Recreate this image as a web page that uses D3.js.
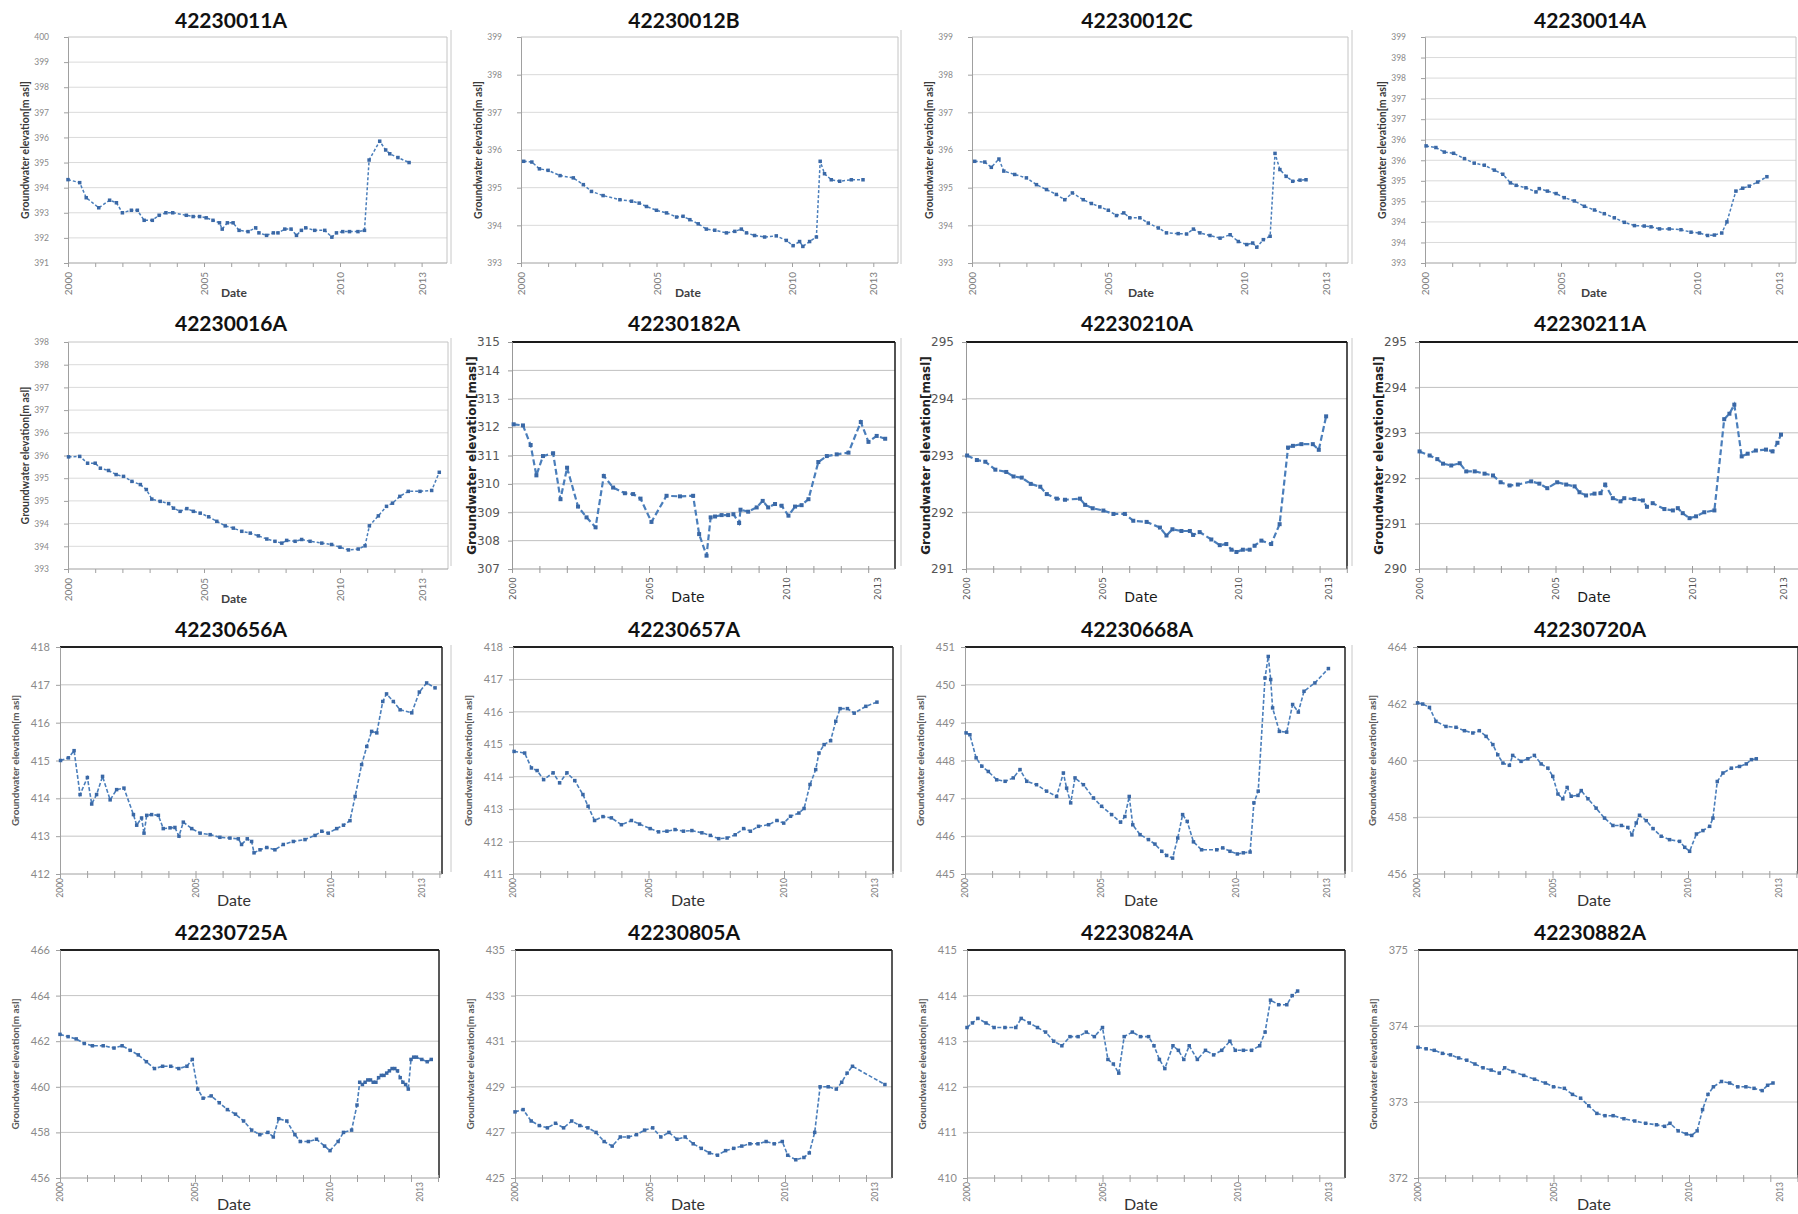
<!DOCTYPE html>
<html><head><meta charset="utf-8">
<script src="https://cdn.jsdelivr.net/npm/d3@7"></script>
<style>body{margin:0;background:#fff;} svg{display:block;}</style>
</head><body>
<svg id="c" width="1798" height="1214"></svg>
<script>
// ---------------- DATA ----------------
const wellNames = ["42230011A","42230012B","42230012C","42230014A","42230016A","42230182A","42230210A","42230211A",
  "42230656A","42230657A","42230668A","42230720A","42230725A","42230805A","42230824A","42230882A"];
const yLow  = [391,393,393,393,393,307,291,290,412,411,445,456,456,425,410,372];
const yHigh = [400,399,399,398.5,398,315,295,295,418,418,451,464,466,435,415,375];
const yStep = [1,1,1,0.5,0.5,1,1,1,1,1,1,2,2,2,1,1];
const majorYears = [2000,2005,2010,2013];
const minorYears = [2000,2001,2002,2003,2004,2005,2006,2007,2008,2009,2010,2011,2012,2013,2014];
const xTitle = "Date";
const yTitles = ["Groundwater elevation[m asl]","Groundwater elevation[masl]"];

const d_42230011A = [[2000.0,394.32],[2000.43,394.2],[2000.67,393.6],[2001.13,393.2],[2001.53,393.5],[2001.78,393.4],[2002.0,393.0],[2002.33,393.1],[2002.55,393.1],[2002.8,392.7],[2003.1,392.7],[2003.35,392.9],[2003.6,393.0],[2003.85,393.0],[2004.35,392.9],[2004.6,392.85],[2004.84,392.85],[2005.08,392.8],[2005.33,392.7],[2005.57,392.6],[2005.67,392.35],[2005.86,392.6],[2006.07,392.6],[2006.29,392.3],[2006.62,392.25],[2006.9,392.4],[2007.02,392.2],[2007.3,392.1],[2007.55,392.2],[2007.72,392.2],[2007.97,392.35],[2008.2,392.35],[2008.4,392.1],[2008.58,392.3],[2008.74,392.4],[2009.07,392.3],[2009.44,392.3],[2009.7,392.03],[2009.87,392.2],[2010.1,392.25],[2010.35,392.25],[2010.66,392.25],[2010.9,392.3],[2011.07,395.1],[2011.46,395.85],[2011.68,395.5],[2011.83,395.35],[2012.13,395.2],[2012.54,395.0]];
const d_42230012B = [[2000.1,395.7],[2000.4,395.68],[2000.68,395.5],[2001.0,395.46],[2001.44,395.32],[2001.93,395.26],[2002.3,395.08],[2002.6,394.9],[2003.03,394.79],[2003.65,394.68],[2004.08,394.64],[2004.36,394.59],[2004.63,394.5],[2005.0,394.4],[2005.37,394.33],[2005.74,394.22],[2005.98,394.24],[2006.23,394.15],[2006.54,394.04],[2006.84,393.9],[2007.15,393.87],[2007.58,393.8],[2007.89,393.84],[2008.13,393.9],[2008.32,393.8],[2008.62,393.73],[2008.99,393.69],[2009.42,393.72],[2009.79,393.6],[2010.04,393.46],[2010.28,393.57],[2010.4,393.44],[2010.65,393.57],[2010.9,393.69],[2011.04,395.7],[2011.2,395.37],[2011.45,395.21],[2011.76,395.17],[2012.19,395.21],[2012.62,395.21]];
const d_42230012C = [[2000.1,395.7],[2000.47,395.68],[2000.71,395.54],[2000.99,395.76],[2001.17,395.44],[2001.57,395.35],[2002.0,395.26],[2002.37,395.08],[2002.74,394.95],[2003.1,394.82],[2003.41,394.68],[2003.69,394.86],[2004.09,394.68],[2004.39,394.58],[2004.7,394.49],[2005.01,394.4],[2005.31,394.26],[2005.58,394.33],[2005.8,394.2],[2006.17,394.2],[2006.48,394.06],[2006.85,393.93],[2007.15,393.8],[2007.58,393.78],[2007.89,393.77],[2008.14,393.9],[2008.38,393.8],[2008.75,393.73],[2009.12,393.66],[2009.49,393.75],[2009.79,393.57],[2010.1,393.49],[2010.32,393.53],[2010.47,393.42],[2010.71,393.62],[2010.96,393.71],[2011.14,395.91],[2011.32,395.48],[2011.55,395.3],[2011.79,395.17],[2012.06,395.2],[2012.28,395.21]];
const d_42230014A = [[2000.04,395.85],[2000.4,395.81],[2000.71,395.7],[2001.05,395.67],[2001.45,395.54],[2001.81,395.43],[2002.18,395.38],[2002.55,395.26],[2002.86,395.16],[2003.14,394.95],[2003.35,394.89],[2003.71,394.83],[2004.08,394.73],[2004.2,394.81],[2004.5,394.75],[2004.82,394.69],[2005.12,394.59],[2005.49,394.51],[2005.86,394.38],[2006.23,394.29],[2006.59,394.2],[2006.96,394.1],[2007.33,393.99],[2007.7,393.91],[2008.06,393.9],[2008.31,393.88],[2008.62,393.83],[2008.98,393.83],[2009.41,393.81],[2009.78,393.75],[2010.09,393.73],[2010.39,393.67],[2010.64,393.68],[2010.91,393.73],[2011.1,394.0],[2011.43,394.75],[2011.68,394.82],[2011.92,394.87],[2012.23,394.97],[2012.57,395.1]];
const d_42230016A = [[2000.02,395.47],[2000.43,395.48],[2000.72,395.33],[2001.0,395.33],[2001.19,395.22],[2001.49,395.17],[2001.77,395.08],[2002.04,395.04],[2002.35,394.93],[2002.66,394.86],[2002.88,394.75],[2003.08,394.54],[2003.39,394.49],[2003.7,394.44],[2003.88,394.34],[2004.12,394.27],[2004.37,394.33],[2004.61,394.27],[2004.86,394.23],[2005.17,394.15],[2005.47,394.05],[2005.78,393.95],[2006.08,393.9],[2006.39,393.83],[2006.7,393.79],[2007.0,393.73],[2007.31,393.66],[2007.61,393.61],[2007.86,393.57],[2008.04,393.63],[2008.35,393.61],[2008.59,393.65],[2008.9,393.61],[2009.33,393.57],[2009.69,393.54],[2010.0,393.48],[2010.31,393.42],[2010.67,393.44],[2010.92,393.51],[2011.08,393.95],[2011.41,394.17],[2011.71,394.38],[2011.93,394.45],[2012.2,394.6],[2012.51,394.71],[2012.94,394.71],[2013.37,394.73],[2013.65,395.13]];
const d_42230182A = [[2000.06,312.1],[2000.4,312.06],[2000.68,311.37],[2000.89,310.3],[2001.13,310.98],[2001.5,311.08],[2001.77,309.46],[2002.01,310.57],[2002.41,309.2],[2002.72,308.82],[2003.05,308.47],[2003.35,310.28],[2003.69,309.87],[2004.12,309.67],[2004.42,309.64],[2004.69,309.48],[2005.09,308.66],[2005.64,309.58],[2006.13,309.56],[2006.61,309.58],[2006.83,308.23],[2007.1,307.47],[2007.25,308.82],[2007.41,308.85],[2007.65,308.9],[2007.89,308.9],[2008.08,308.93],[2008.29,308.62],[2008.34,309.09],[2008.62,309.02],[2008.93,309.17],[2009.15,309.4],[2009.35,309.17],[2009.6,309.29],[2009.84,309.23],[2010.09,308.88],[2010.33,309.2],[2010.57,309.25],[2010.82,309.46],[2011.18,310.77],[2011.49,310.98],[2011.85,311.04],[2012.28,311.1],[2012.73,312.18],[2013.01,311.48],[2013.31,311.69],[2013.62,311.59]];
const d_42230210A = [[2000.04,293.0],[2000.4,292.92],[2000.71,292.89],[2001.08,292.75],[2001.48,292.71],[2001.75,292.63],[2002.05,292.61],[2002.38,292.5],[2002.73,292.45],[2002.97,292.32],[2003.34,292.24],[2003.64,292.22],[2004.19,292.24],[2004.38,292.13],[2004.66,292.07],[2005.05,292.03],[2005.42,291.97],[2005.84,291.97],[2006.15,291.85],[2006.64,291.83],[2007.13,291.73],[2007.37,291.59],[2007.59,291.7],[2007.92,291.67],[2008.23,291.67],[2008.35,291.6],[2008.59,291.65],[2009.02,291.52],[2009.33,291.42],[2009.57,291.44],[2009.76,291.34],[2009.94,291.3],[2010.18,291.34],[2010.43,291.34],[2010.61,291.41],[2010.86,291.5],[2011.22,291.44],[2011.53,291.79],[2011.84,293.14],[2012.02,293.17],[2012.33,293.2],[2012.75,293.2],[2012.97,293.1],[2013.24,293.69]];
const d_42230211A = [[2000.02,292.59],[2000.39,292.5],[2000.67,292.42],[2000.88,292.32],[2001.18,292.28],[2001.49,292.33],[2001.73,292.15],[2002.04,292.15],[2002.4,292.1],[2002.71,292.06],[2002.99,291.91],[2003.32,291.84],[2003.62,291.86],[2004.11,291.93],[2004.41,291.88],[2004.7,291.78],[2005.06,291.91],[2005.39,291.86],[2005.7,291.82],[2005.88,291.69],[2006.12,291.62],[2006.43,291.66],[2006.65,291.67],[2006.82,291.86],[2007.1,291.56],[2007.38,291.49],[2007.52,291.56],[2007.89,291.54],[2008.2,291.51],[2008.35,291.37],[2008.56,291.45],[2008.99,291.32],[2009.3,291.29],[2009.48,291.34],[2009.66,291.23],[2009.91,291.12],[2010.15,291.16],[2010.45,291.25],[2010.82,291.29],[2011.18,293.3],[2011.37,293.42],[2011.55,293.62],[2011.82,292.48],[2012.04,292.54],[2012.34,292.61],[2012.71,292.63],[2012.95,292.59],[2013.13,292.78],[2013.26,292.96]];
const d_42230656A = [[2000.02,415.0],[2000.31,415.07],[2000.52,415.26],[2000.74,414.1],[2001.01,414.55],[2001.17,413.85],[2001.35,414.1],[2001.57,414.58],[2001.85,413.96],[2002.09,414.23],[2002.36,414.27],[2002.71,413.57],[2002.83,413.29],[2003.01,413.48],[2003.1,413.08],[2003.2,413.55],[2003.38,413.57],[2003.63,413.55],[2003.81,413.2],[2004.06,413.22],[2004.24,413.23],[2004.39,413.0],[2004.55,413.37],[2004.86,413.2],[2005.17,413.08],[2005.54,413.04],[2005.9,412.97],[2006.27,412.95],[2006.58,412.93],[2006.7,412.78],[2006.91,412.93],[2007.07,412.86],[2007.16,412.56],[2007.38,412.64],[2007.63,412.7],[2007.93,412.64],[2008.24,412.78],[2008.61,412.86],[2009.04,412.91],[2009.41,413.02],[2009.66,413.13],[2009.9,413.08],[2010.21,413.2],[2010.46,413.29],[2010.7,413.41],[2010.89,414.05],[2011.13,414.89],[2011.32,415.37],[2011.5,415.77],[2011.69,415.73],[2011.91,416.56],[2012.05,416.76],[2012.3,416.56],[2012.55,416.34],[2012.98,416.26],[2013.26,416.81],[2013.53,417.05],[2013.84,416.92]];
const d_42230657A = [[2000.04,414.78],[2000.43,414.73],[2000.68,414.27],[2000.89,414.19],[2001.13,413.91],[2001.48,414.12],[2001.72,413.81],[2001.99,414.12],[2002.28,413.88],[2002.58,413.45],[2002.77,413.09],[2003.01,412.65],[2003.32,412.77],[2003.63,412.73],[2004.0,412.52],[2004.37,412.65],[2004.67,412.54],[2005.06,412.4],[2005.37,412.3],[2005.68,412.32],[2005.98,412.37],[2006.29,412.32],[2006.6,412.34],[2006.97,412.27],[2007.28,412.19],[2007.59,412.09],[2007.9,412.11],[2008.2,412.21],[2008.51,412.4],[2008.76,412.32],[2009.06,412.47],[2009.43,412.52],[2009.74,412.65],[2009.99,412.57],[2010.24,412.78],[2010.55,412.88],[2010.74,413.02],[2010.96,413.76],[2011.17,414.22],[2011.29,414.73],[2011.48,414.99],[2011.72,415.11],[2011.91,415.71],[2012.07,416.1],[2012.34,416.1],[2012.59,415.96],[2013.02,416.17],[2013.43,416.3]];
const d_42230668A = [[2000.04,448.73],[2000.18,448.68],[2000.41,448.07],[2000.62,447.85],[2000.86,447.71],[2001.17,447.49],[2001.48,447.45],[2001.78,447.54],[2002.03,447.76],[2002.28,447.45],[2002.64,447.36],[2003.01,447.19],[2003.38,447.05],[2003.63,447.67],[2003.75,447.27],[2003.9,446.88],[2004.06,447.54],[2004.37,447.36],[2004.74,447.01],[2005.04,446.79],[2005.41,446.57],[2005.74,446.37],[2005.9,446.52],[2006.06,447.05],[2006.19,446.3],[2006.46,446.04],[2006.77,445.91],[2007.01,445.79],[2007.26,445.6],[2007.44,445.49],[2007.66,445.42],[2007.85,445.95],[2008.03,446.57],[2008.2,446.39],[2008.43,445.85],[2008.73,445.64],[2009.29,445.64],[2009.51,445.69],[2009.78,445.6],[2010.05,445.53],[2010.27,445.56],[2010.52,445.58],[2010.66,446.88],[2010.82,447.19],[2011.07,450.18],[2011.19,450.75],[2011.28,450.14],[2011.35,449.39],[2011.6,448.77],[2011.87,448.75],[2012.09,449.48],[2012.3,449.28],[2012.51,449.83],[2012.91,450.05],[2013.41,450.43]];
const d_42230720A = [[2000.02,462.03],[2000.21,461.99],[2000.46,461.87],[2000.7,461.38],[2001.07,461.2],[2001.44,461.17],[2001.75,461.05],[2002.06,460.97],[2002.3,461.05],[2002.55,460.85],[2002.8,460.56],[2002.98,460.2],[2003.17,459.91],[2003.41,459.83],[2003.53,460.18],[2003.84,459.97],[2004.09,460.06],[2004.33,460.18],[2004.58,459.88],[2004.83,459.73],[2005.01,459.44],[2005.2,458.82],[2005.38,458.65],[2005.54,459.05],[2005.69,458.74],[2005.94,458.77],[2006.06,458.94],[2006.31,458.65],[2006.61,458.32],[2006.92,457.97],[2007.23,457.71],[2007.54,457.71],[2007.78,457.64],[2007.93,457.38],[2008.09,457.8],[2008.21,458.07],[2008.46,457.88],[2008.71,457.6],[2009.01,457.33],[2009.32,457.21],[2009.69,457.15],[2009.88,456.94],[2010.06,456.8],[2010.31,457.41],[2010.55,457.53],[2010.8,457.68],[2010.92,457.97],[2011.08,459.26],[2011.29,459.56],[2011.6,459.73],[2011.9,459.79],[2012.15,459.88],[2012.34,460.03],[2012.52,460.06]];
const d_42230725A = [[2000.0,462.3],[2000.3,462.2],[2000.6,462.1],[2000.9,461.9],[2001.2,461.8],[2001.6,461.8],[2002.0,461.7],[2002.3,461.8],[2002.6,461.6],[2002.9,461.4],[2003.2,461.1],[2003.5,460.8],[2003.8,460.9],[2004.1,460.9],[2004.4,460.8],[2004.7,460.9],[2004.9,461.2],[2005.1,459.9],[2005.3,459.5],[2005.6,459.6],[2005.9,459.3],[2006.2,459.0],[2006.5,458.8],[2006.8,458.5],[2007.1,458.1],[2007.4,457.9],[2007.7,458.0],[2007.9,457.8],[2008.1,458.6],[2008.4,458.5],[2008.7,457.9],[2008.9,457.6],[2009.2,457.6],[2009.5,457.7],[2009.8,457.4],[2010.0,457.2],[2010.3,457.6],[2010.5,458.0],[2010.8,458.1],[2011.0,459.2],[2011.1,460.2],[2011.2,460.1],[2011.3,460.2],[2011.4,460.3],[2011.5,460.3],[2011.6,460.2],[2011.7,460.2],[2011.8,460.4],[2011.9,460.5],[2012.0,460.5],[2012.1,460.6],[2012.2,460.7],[2012.3,460.8],[2012.4,460.8],[2012.5,460.7],[2012.6,460.4],[2012.7,460.2],[2012.8,460.1],[2012.9,459.9],[2013.0,461.2],[2013.1,461.3],[2013.2,461.3],[2013.4,461.2],[2013.6,461.1],[2013.75,461.2]];
const d_42230805A = [[2000.0,427.9],[2000.3,428.0],[2000.6,427.5],[2000.9,427.3],[2001.2,427.2],[2001.5,427.4],[2001.8,427.2],[2002.1,427.5],[2002.4,427.3],[2002.7,427.2],[2003.0,427.0],[2003.3,426.6],[2003.6,426.4],[2003.9,426.8],[2004.2,426.8],[2004.5,426.9],[2004.8,427.1],[2005.1,427.2],[2005.4,426.8],[2005.7,427.0],[2006.0,426.7],[2006.3,426.8],[2006.6,426.5],[2006.9,426.3],[2007.2,426.1],[2007.5,426.0],[2007.8,426.2],[2008.1,426.3],[2008.4,426.4],[2008.7,426.5],[2009.0,426.5],[2009.3,426.6],[2009.6,426.5],[2009.9,426.6],[2010.1,426.0],[2010.4,425.8],[2010.7,425.9],[2010.9,426.1],[2011.1,427.0],[2011.3,429.0],[2011.6,429.0],[2011.9,428.9],[2012.1,429.2],[2012.3,429.6],[2012.5,429.9],[2013.7,429.1]];
const d_42230824A = [[2000.0,413.3],[2000.2,413.4],[2000.4,413.5],[2000.7,413.4],[2001.0,413.3],[2001.4,413.3],[2001.8,413.3],[2002.0,413.5],[2002.3,413.4],[2002.6,413.3],[2002.9,413.2],[2003.2,413.0],[2003.5,412.9],[2003.8,413.1],[2004.1,413.1],[2004.4,413.2],[2004.7,413.1],[2005.0,413.3],[2005.2,412.6],[2005.4,412.5],[2005.6,412.3],[2005.8,413.1],[2006.1,413.2],[2006.4,413.1],[2006.7,413.1],[2006.9,412.9],[2007.1,412.6],[2007.3,412.4],[2007.6,412.9],[2007.8,412.8],[2008.0,412.6],[2008.2,412.9],[2008.5,412.6],[2008.8,412.8],[2009.1,412.7],[2009.4,412.8],[2009.7,413.0],[2009.9,412.8],[2010.2,412.8],[2010.5,412.8],[2010.8,412.9],[2011.0,413.2],[2011.2,413.9],[2011.5,413.8],[2011.8,413.8],[2012.0,414.0],[2012.2,414.1]];
const d_42230882A = [[2000.0,373.72],[2000.3,373.7],[2000.6,373.68],[2000.9,373.64],[2001.2,373.62],[2001.5,373.58],[2001.8,373.55],[2002.1,373.5],[2002.4,373.45],[2002.7,373.42],[2003.0,373.38],[2003.2,373.45],[2003.5,373.4],[2003.9,373.35],[2004.3,373.3],[2004.7,373.25],[2005.0,373.2],[2005.4,373.18],[2005.7,373.1],[2006.0,373.05],[2006.3,372.95],[2006.6,372.85],[2006.9,372.82],[2007.2,372.82],[2007.6,372.78],[2008.0,372.75],[2008.4,372.72],[2008.8,372.7],[2009.1,372.68],[2009.3,372.72],[2009.6,372.62],[2009.9,372.58],[2010.1,372.56],[2010.3,372.62],[2010.5,372.9],[2010.7,373.1],[2010.9,373.2],[2011.2,373.27],[2011.5,373.25],[2011.8,373.2],[2012.1,373.2],[2012.4,373.18],[2012.7,373.15],[2012.9,373.22],[2013.1,373.25]];

const seriesList = [d_42230011A,d_42230012B,d_42230012C,d_42230014A,d_42230016A,d_42230182A,d_42230210A,d_42230211A,
  d_42230656A,d_42230657A,d_42230668A,d_42230720A,d_42230725A,d_42230805A,d_42230824A,d_42230882A];

// ---------------- LAYOUT (pixels) ----------------
const rowTop = [37, 342, 647, 950];
const rowBottom = [263, 569, 874, 1178];
const titleBase = [28, 331, 637, 940];
const colTitleX = [231, 684, 1137, 1590];
const colDateX = [234, 688, 1141, 1594];
// [x of 2000, x of 2010, right edge]
const panelX = [[68,340,447],[521,792,898],[972,1244,1348],[1425,1697,1796],
  [68,340,448],[512,786,895],[966,1238,1347],[1419,1692,1800],
  [60,331,442],[513,784,893],[965,1236,1345],[1417,1688,1798],
  [60,330,439],[515,785,892],[967,1238,1345],[1418,1689,1798]];

const styles = {
  A: {font:"Lato", grid:"#dadada", frame:"#c4c4c4", strongFrame:false, axis:"#a0a0a0",
      yFont:8.5, yFill:"#8a8a8a", yPad:15, yTick:4, xFont:10, xFill:"#7a7a7a", xOff:9, xTick:4,
      dateFont:12, dateWeight:"bold", dateFill:"#404040", dateDy:34,
      ytFont:10.5, ytWeight:"bold", ytFill:"#3a3a3a", ytOff:43, ytText:0,
      lw:1.5, dash:"3,2", ms:3.5, line:"#4a7ebb", mk:"#3a68a6", shift13:0},
  B: {font:"DejaVu Sans", grid:"#c0c0c0", frame:"#1a1a1a", strongFrame:true, axis:"#999",
      yFont:12, yFill:"#555", yPad:8, yTick:4, xFont:9, xFill:"#555", xOff:8, xTick:4,
      dateFont:14, dateWeight:"normal", dateFill:"#1a1a1a", dateDy:33,
      ytFont:12, ytWeight:"bold", ytFill:"#222", ytOff:40, ytText:1,
      lw:2.2, dash:"6,3", ms:4, line:"#4a7ebb", mk:"#3a68a6", shift13:9},
  C: {font:"Lato", grid:"#c4c4c4", frame:"#222", strongFrame:true, axis:"#a0a0a0",
      yFont:11, yFill:"#8a8a8a", yPad:6, yTick:4, xFont:8.5, xFill:"#777", xOff:4, xTick:4,
      dateFont:16, dateWeight:"normal", dateFill:"#333", dateDy:32,
      ytFont:10, ytWeight:"bold", ytFill:"#5a5a5a", ytOff:45, ytText:0,
      lw:1.6, dash:"4,2", ms:3.5, line:"#4a7ebb", mk:"#3a68a6", shift13:9}
};
const styleOf = i => i < 5 ? "A" : (i < 8 ? "B" : "C");

// ---------------- DRAW ----------------
const svg = d3.select("#c");
svg.append("rect").attr("width",1798).attr("height",1214).attr("fill","#fff");

// faint chart-area separators
[451, 901, 1352].forEach(xx => {
  [[30,264],[338,566],[645,872]].forEach(([a,b]) => {
    svg.append("line").attr("x1",xx).attr("x2",xx).attr("y1",a).attr("y2",b)
      .attr("stroke","#c8c8c8").attr("stroke-width",1);
  });
});

wellNames.forEach((name, i) => {
  const st = styles[styleOf(i)];
  const row = Math.floor(i / 4), col = i % 4;
  const top = rowTop[row], bot = rowBottom[row];
  const [x0, x10, R] = panelX[i];
  const x = d3.scaleLinear().domain([2000, 2010]).range([x0, x10]);
  const y = d3.scaleLinear().domain([yLow[i], yHigh[i]]).range([bot, top]);
  const yTicks = d3.range(yLow[i], yHigh[i] + yStep[i] / 2, yStep[i]);
  const g = svg.append("g");

  g.selectAll("line.grid").data(yTicks.filter(v => v > yLow[i] && v < yHigh[i])).join("line")
    .attr("x1", x0).attr("x2", R).attr("y1", d => y(d)).attr("y2", d => y(d))
    .attr("stroke", st.grid).attr("stroke-width", 1);

  if (st.strongFrame) {
    g.append("line").attr("x1", x0).attr("x2", R).attr("y1", top).attr("y2", top)
      .attr("stroke", st.frame).attr("stroke-width", 2);
    g.append("line").attr("x1", R).attr("x2", R).attr("y1", top).attr("y2", bot)
      .attr("stroke", st.frame).attr("stroke-width", 1.5);
  } else {
    g.append("line").attr("x1", x0).attr("x2", R).attr("y1", top).attr("y2", top)
      .attr("stroke", st.frame).attr("stroke-width", 1);
    g.append("line").attr("x1", R).attr("x2", R).attr("y1", top).attr("y2", bot)
      .attr("stroke", st.frame).attr("stroke-width", 1);
  }

  const ya = g.append("g").attr("transform", `translate(${x0},0)`)
    .call(d3.axisLeft(y).tickValues(yTicks).tickSize(st.yTick).tickPadding(st.yPad)
      .tickFormat(v => String(Math.round(v))));
  ya.select(".domain").attr("stroke", st.axis);
  ya.selectAll(".tick line").attr("stroke", st.axis);
  ya.selectAll("text").attr("font-family", st.font).attr("font-size", st.yFont).attr("fill", st.yFill);

  const xa = g.append("g").attr("transform", `translate(0,${bot})`)
    .call(d3.axisBottom(x).tickValues(minorYears.filter(v => x(v) <= R + 0.5)).tickSize(st.xTick)
      .tickFormat(v => majorYears.includes(v) ? String(v) : ""));
  xa.select(".domain").attr("stroke", st.axis).attr("d", `M${x0},0H${R}`);
  xa.selectAll(".tick line").attr("stroke", st.axis).attr("y1", st.strongFrame ? -3 : 0);
  xa.selectAll("text")
    .attr("font-family", st.font).attr("font-size", st.xFont).attr("fill", st.xFill)
    .attr("text-anchor", "end").attr("x", -st.xOff).attr("y", 0).attr("dy", "0.35em")
    .attr("transform", d => `translate(${d === 2013 ? st.shift13 : 0},0) rotate(-90)`);

  const data = seriesList[i];
  const line = d3.line().x(d => x(d[0])).y(d => y(d[1]));
  g.append("path").datum(data).attr("d", line).attr("fill", "none")
    .attr("stroke", st.line).attr("stroke-width", st.lw).attr("stroke-dasharray", st.dash);
  g.selectAll("rect.mk").data(data).join("rect")
    .attr("x", d => x(d[0]) - st.ms / 2).attr("y", d => y(d[1]) - st.ms / 2)
    .attr("width", st.ms).attr("height", st.ms).attr("fill", st.mk);

  svg.append("text").attr("x", colTitleX[col]).attr("y", titleBase[row])
    .attr("text-anchor", "middle").attr("font-family", "Lato").attr("font-weight", "bold")
    .attr("font-size", 21).attr("fill", "#111").text(name);

  svg.append("text").attr("x", colDateX[col]).attr("y", bot + st.dateDy)
    .attr("text-anchor", "middle").attr("font-family", st.font).attr("font-weight", st.dateWeight)
    .attr("font-size", st.dateFont).attr("fill", st.dateFill).text(xTitle);

  const cy = (top + bot) / 2, cx = x0 - st.ytOff;
  svg.append("text").attr("transform", `translate(${cx},${cy}) rotate(-90)`)
    .attr("text-anchor", "middle").attr("dy", "0.35em")
    .attr("font-family", st.font).attr("font-weight", st.ytWeight)
    .attr("font-size", st.ytFont).attr("fill", st.ytFill).text(yTitles[st.ytText]);
});
</script>
</body></html>
